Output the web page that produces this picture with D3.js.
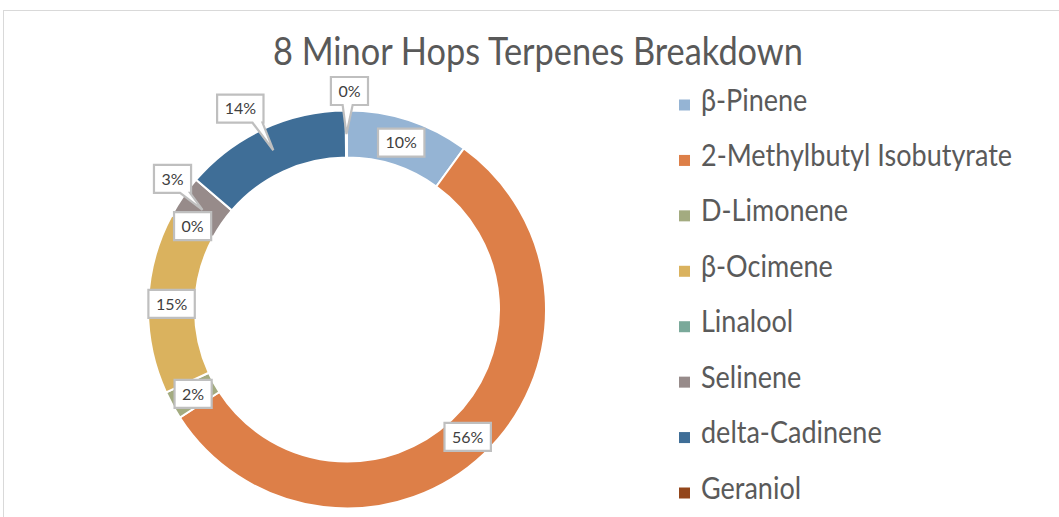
<!DOCTYPE html>
<html>
<head>
<meta charset="utf-8">
<script src="https://cdnjs.cloudflare.com/ajax/libs/d3/7.8.5/d3.min.js"></script>
<style>
    body { margin: 0; background: #fff; }
    #chart-area { width: 1059px; height: 517px; }
    text { font-family: Lato, "Open Sans", sans-serif; }
</style>
</head>
<body>
<div id="chart-area"></div>
<script>
// chart data
const chartTitle = "8 Minor Hops Terpenes Breakdown";
const terpenes = ["β-Pinene", "2-Methylbutyl Isobutyrate", "D-Limonene", "β-Ocimene",
    "Linalool", "Selinene", "delta-Cadinene", "Geraniol"];
const shares = [10.0, 55.9, 2.3, 14.7, 0.05, 3.4, 13.6, 0.1];
const sliceColors = ["#95b4d4", "#dd7f48", "#a3ab80", "#dab25e", "#7aa99a", "#978b8a", "#3f6e97", "#93461b"];

// labels that Excel pushed out of the ring, moved by (dx, dy) from the slice
const calloutShift = {"Geraniol": [3, -43], "delta-Cadinene": [-33, -41.5], "Selinene": [-30, -31]};

class DonutVis {

    constructor(parentElement) {
        this.parentElement = parentElement;
        this.initVis()
    }

    initVis() {
        let vis = this

        vis.width = 1059;
        vis.height = 517;
        vis.cx = 347;
        vis.cy = 309.5;
        vis.outerR = 199;
        vis.innerR = 152;

        vis.svg = d3.select("#" + vis.parentElement).append("svg")
            .attr("width", vis.width)
            .attr("height", vis.height)

        // chart frame (runs off the page on the right and bottom)
        vis.svg.append("rect")
            .attr("x", 3.5).attr("y", 10.5)
            .attr("width", 1200).attr("height", 700)
            .attr("fill", "none")
            .attr("stroke", "#d9d9d9")

        // Calibri is taller than Lato for the same width, so stretch a bit
        let title = vis.svg.append("text")
            .attr("x", 538)
            .attr("y", 0)
            .attr("text-anchor", "middle")
            .attr("fill", "#595959")
            .attr("font-size", 20)
            .attr("transform", "translate(0, 65) scale(1, 1.1)")
            .text(chartTitle)
        vis.fitWidth(title, 530, 20)

        vis.ring = vis.svg.append("g")
            .attr("transform", `translate(${vis.cx}, ${vis.cy})`)

        vis.legend = vis.svg.append("g")

        vis.wrangleData()
    }

    // scale font so the text spans the wanted width
    fitWidth(sel, target, base) {
        let w = sel.node().getComputedTextLength();
        sel.attr("font-size", base * target / w)
    }

    wrangleData() {
        let vis = this

        vis.displayData = terpenes.map((name, i) => ({name: name, value: shares[i], color: sliceColors[i]}))
        vis.total = d3.sum(shares)

        vis.updateVis()
    }

    updateVis() {
        let vis = this

        let pie = d3.pie().sort(null).value(d => d.value)
        let arc = d3.arc().innerRadius(vis.innerR).outerRadius(vis.outerR)
        let midR = (vis.innerR + vis.outerR) / 2
        let midArc = d3.arc().innerRadius(midR).outerRadius(midR)

        let arcs = pie(vis.displayData)

        vis.ring.selectAll(".slice")
            .data(arcs)
            .enter()
            .append("path")
            .attr("class", "slice")
            .attr("d", arc)
            .attr("fill", d => d.data.color)
            .attr("stroke", "#fff")
            .attr("stroke-width", 2)

        // data labels
        let labels = vis.ring.selectAll(".lbl")
            .data(arcs)
            .enter()
            .append("g")
            .attr("class", "lbl")

        labels.each(function (d) {
            let g = d3.select(this)
            let tip = midArc.centroid(d)
            let shift = calloutShift[d.data.name] || [0, 0]
            let cx = tip[0] + shift[0], cy = tip[1] + shift[1]

            let txt = g.append("text")
                .attr("x", cx)
                .attr("y", cy)
                .attr("text-anchor", "middle")
                .attr("dy", "0.36em")
                .attr("fill", "#404040")
                .attr("font-size", 16)
                .text(d3.format(".0%")(d.data.value / vis.total))

            let w = txt.node().getComputedTextLength() + 15, h = 28
            let x0 = cx - w / 2, x1 = cx + w / 2, y0 = cy - h / 2, y1 = cy + h / 2
            let p = d3.path()
            p.moveTo(x0, y0)
            p.lineTo(x1, y0)
            p.lineTo(x1, y1)
            if (calloutShift[d.data.name]) {
                let bc = Math.max(x0 + 6, Math.min(x1 - 6, cx + (tip[0] - cx) * 0.6))
                p.lineTo(bc + 5, y1)
                p.lineTo(tip[0], tip[1])
                p.lineTo(bc - 5, y1)
            }
            p.lineTo(x0, y1)
            p.closePath()

            g.insert("path", "text")
                .attr("d", p.toString())
                .attr("fill", "#fff")
                .attr("stroke", "#bfbfbf")
                .attr("stroke-width", 2.2)
                .attr("stroke-linejoin", "miter")
        })

        // legend
        let yPos = d3.scalePoint().domain(terpenes).range([105, 493])

        let rows = vis.legend.selectAll(".row")
            .data(vis.displayData)
            .enter()
            .append("g")
            .attr("class", "row")
            .attr("transform", d => `translate(679, ${yPos(d.name)})`)

        rows.append("rect")
            .attr("x", 0).attr("y", -5.5)
            .attr("width", 11).attr("height", 11)
            .attr("fill", d => d.color)

        let names = rows.append("text")
            .attr("x", 22)
            .attr("y", 0)
            .attr("transform", "translate(0, 5.5) scale(1, 1.15)")
            .attr("fill", "#5a5a5a")
            .attr("font-size", 20)
            .text(d => d.name)

        // size legend font from the longest name
        let longest = names.filter(d => d.name === "2-Methylbutyl Isobutyrate")
        let fs = 20 * 311 / longest.node().getComputedTextLength()
        names.attr("font-size", fs)
    }

}

new DonutVis("chart-area")
</script>
</body>
</html>
